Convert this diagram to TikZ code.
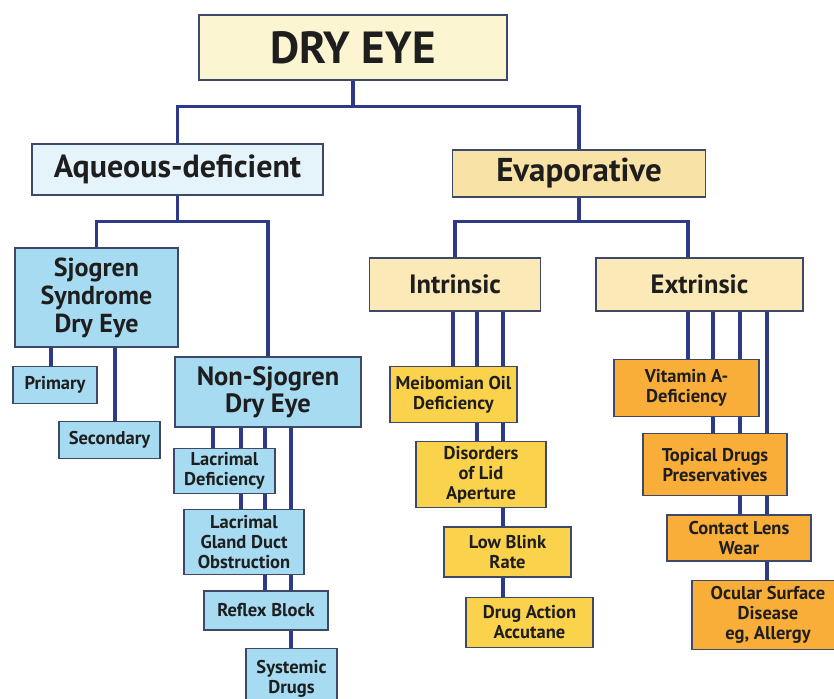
\documentclass[tikz,border=0pt]{standalone}
\usepackage{fontspec}
\setmainfont{PT Sans}
\usepackage{tikz}
\usepackage{xcolor}
\usetikzlibrary{positioning, backgrounds}
\definecolor{linkblue}{HTML}{2E3A87}
\definecolor{edge}{HTML}{3E4868}
\definecolor{textmain}{HTML}{1E1E1E}
\definecolor{rootfill}{HTML}{FCF5D2}
\definecolor{aqfill}{HTML}{E5F3FA}
\definecolor{evfill}{HTML}{F8E2A6}
\definecolor{subfill}{HTML}{FBEAB8}
\definecolor{skyfill}{HTML}{A6DBF1}
\definecolor{goldfill}{HTML}{FAD24C}
\definecolor{amberfill}{HTML}{F8AE38}

\begin{document}
\begin{tikzpicture}[
    x=1pt, y=-1pt,
    box/.style={rectangle, draw=edge, line width=1.3pt, text=textmain,
                align=center, inner sep=1pt},
    root/.style={box, fill=rootfill, font=\bfseries\fontsize{45}{48}\selectfont},
    aqueous/.style={box, fill=aqfill, font=\bfseries\fontsize{32}{34}\selectfont},
    evap/.style={box, fill=evfill, font=\bfseries\fontsize{33}{35}\selectfont},
    kind/.style={box, fill=subfill, font=\bfseries\fontsize{26.5}{28}\selectfont},
    skybig/.style={box, fill=skyfill},
    sky/.style={box, fill=skyfill, font=\bfseries\fontsize{18.5}{20}\selectfont},
    gold/.style={box, fill=goldfill, font=\bfseries\fontsize{18.5}{20}\selectfont},
    amber/.style={box, fill=amberfill, font=\bfseries\fontsize{18.5}{20}\selectfont},
    link/.style={line width=3.6pt, linkblue}
  ]
    \useasboundingbox (0,0) rectangle (834,698);

    % top levels
    \node[root, minimum width=308pt, minimum height=65pt] (dry) at (353,47.5) {DRY EYE};
    \node[aqueous, minimum width=291pt, minimum height=51pt] (aq) at (177.5,169.5) {Aqueous-deficient};
    \node[evap, minimum width=253pt, minimum height=47pt] (ev) at (579,173.5) {Evaporative};

    % aqueous-deficient side
    \node[skybig, minimum width=163pt, minimum height=99pt,
          font=\bfseries\fontsize{26}{28}\selectfont] (sj) at (96.5,297.5) {Sjogren\\Syndrome\\Dry Eye};
    \node[skybig, minimum width=186pt, minimum height=70pt,
          font=\bfseries\fontsize{26.5}{27}\selectfont] (ns) at (268,392) {Non-Sjogren\\Dry Eye};
    \node[sky, minimum width=84pt, minimum height=37pt, below right=18pt and -2pt of sj.south west] (pri) {Primary};
    \node[sky, minimum width=101pt, minimum height=37pt, below right=17pt and 46pt of pri.south west] (sec) {Secondary};
    \node[sky, minimum width=101pt, minimum height=45pt, below right=20pt and -1pt of ns.south west] (ld) {Lacrimal\\Deficiency};
    \node[sky, minimum width=120pt, minimum height=65pt, below right=15pt and 10pt of ld.south west] (lg) {Lacrimal\\Gland Duct\\Obstruction};
    \node[sky, minimum width=124pt, minimum height=39pt, below right=15pt and 20pt of lg.south west] (rb) {Reflex Block};
    \node[sky, minimum width=91pt, minimum height=62pt, below right=17pt and 42pt of rb.south west] (sd) {Systemic\\Drugs};

    % evaporative side
    \node[kind, minimum width=171pt, minimum height=53pt] (int) at (455,284.5) {Intrinsic};
    \node[kind, minimum width=207pt, minimum height=53pt] (ext) at (699.5,284.5) {Extrinsic};
    \node[gold, minimum width=127pt, minimum height=56pt, below right=54pt and 20.5pt of int.south west] (meib) {Meibomian Oil\\Deficiency};
    \node[gold, minimum width=130pt, minimum height=66pt, below right=18pt and 26pt of meib.south west] (dis) {Disorders\\of Lid\\Aperture};
    \node[gold, minimum width=127pt, minimum height=50pt, below right=18pt and 28pt of dis.south west] (lb) {Low Blink\\Rate};
    \node[gold, minimum width=127pt, minimum height=50pt, below right=19pt and 22pt of lb.south west] (da) {Drug Action\\Accutane};
    \node[amber, minimum width=145pt, minimum height=57pt, below right=47pt and 18pt of ext.south west] (vit) {Vitamin A-\\Deficiency};
    \node[amber, minimum width=144pt, minimum height=62pt, below right=16pt and 29pt of vit.south west] (top) {Topical Drugs\\Preservatives};
    \node[amber, minimum width=144pt, minimum height=46pt, below right=18pt and 24pt of top.south west] (cl) {Contact Lens\\Wear};
    \node[amber, minimum width=152pt, minimum height=69pt, below right=18pt and 25pt of cl.south west] (oc) {Ocular Surface\\Disease\\eg, Allergy};

    % connectors, behind the boxes
    \begin{scope}[on background layer]
      \draw[link] (dry.south) -- ++(0,26) coordinate (dj);
      \draw[link] (aq.north) |- (dj) -| (ev.north);

      \draw[link] (aq.south) -- ++(0,26) coordinate (aj);
      \draw[link] (sj.north) |- (aj) -| (ns.north);
      \draw[link] (sj.south -| 51,0) -- (pri.north -| 51,0);
      \draw[link] (sj.south -| 115,0) -- (sec.north -| 115,0);
      \draw[link] (ns.south -| 213,0) -- (ld.north -| 213,0);
      \draw[link] (ns.south -| 241,0) -- (lg.north -| 241,0);
      \draw[link] (ns.south -| 265,0) -- (rb.north -| 265,0);
      \draw[link] (ns.south -| 291,0) -- (sd.north -| 291,0);

      \draw[link] (ev.south) -- ++(0,24) coordinate (ej);
      \draw[link] (int.north) |- (ej) -| (ext.north -| 688,0);
      \draw[link] (int.south -| 453,0) -- (meib.north -| 453,0);
      \draw[link] (int.south -| 477,0) -- (dis.north -| 477,0);
      \draw[link] (int.south -| 503,0) -- (da.north -| 503,0);
      \draw[link] (ext.south -| 688,0) -- (vit.north -| 688,0);
      \draw[link] (ext.south -| 713,0) -- (top.north -| 713,0);
      \draw[link] (ext.south -| 740,0) -- (cl.north -| 740,0);
      \draw[link] (ext.south -| 767,0) -- (oc.north -| 767,0);
    \end{scope}
\end{tikzpicture}
\end{document}
